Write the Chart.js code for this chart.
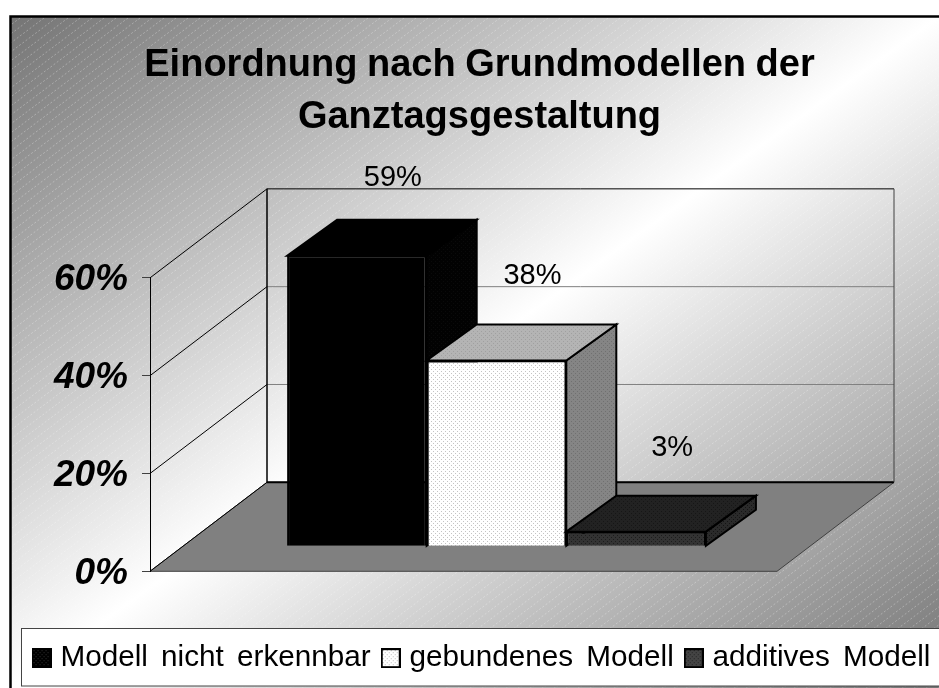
<!DOCTYPE html>
<html>
<head>
<meta charset="utf-8">
<style>html,body{margin:0;padding:0;background:#fff}canvas{display:block}</style>
<script src="https://cdn.jsdelivr.net/npm/chart.js@4"></script>
</head>
<body>
<canvas id="c" width="939" height="688"></canvas>
<script>
const titleLines = ["Einordnung nach Grundmodellen der", "Ganztagsgestaltung"];
const categories = [""];
const seriesNames = ["Modell nicht erkennbar", "gebundenes Modell", "additives Modell"];
const seriesValues = [59.4, 38, 3];
const yTickValues = [0, 20, 40, 60];

const SANS = '"Liberation Sans", Arial, sans-serif';
function tile(bg, dot) {
  const t = document.createElement('canvas'); t.width = 4; t.height = 4;
  const g = t.getContext('2d');
  g.fillStyle = bg; g.fillRect(0, 0, 4, 4);
  g.fillStyle = dot; g.fillRect(0, 0, 1, 1); g.fillRect(2, 2, 1, 1);
  return document.createElement('canvas').getContext('2d').createPattern(t, 'repeat');
}
const fronts = [tile('#000', '#000'), tile('#fff', '#c4c4c4'), tile('#333', '#1c1c1c')];
const tops = [tile('#000', '#000'), tile('#b4b4b4', '#a0a0a0'), tile('#222', '#161616')];
const sides = [tile('#020202', '#0a0a0a'), tile('#858585', '#707070'), tile('#2a2a2a', '#141414')];
const swatchFill = [tile('#000', '#333'), tile('#fff', '#bbb'), tile('#444', '#222')];
const swatches = swatchFill.map(p => {
  const s = document.createElement('canvas'); s.width = 20; s.height = 20;
  const g = s.getContext('2d');
  g.fillStyle = p; g.fillRect(0, 0, 20, 20);
  g.strokeStyle = '#000'; g.lineWidth = 2; g.strokeRect(1, 1, 18, 18);
  return s;
});

const WALL = {dx: 117, dy: -89};
const PLANE = {dx: 33, dy: -25};
const BAR = {dx: 50, dy: -36};

function drawBarFaces(ctx, el, i) {
  const l = el.x - el.width / 2, r = el.x + el.width / 2, t = el.y, b = el.base;
  ctx.strokeStyle = '#000'; ctx.lineWidth = 2; ctx.lineJoin = 'miter';
  ctx.beginPath();
  ctx.moveTo(r, t); ctx.lineTo(r + BAR.dx, t + BAR.dy); ctx.lineTo(r + BAR.dx, b + BAR.dy); ctx.lineTo(r, b); ctx.closePath();
  ctx.fillStyle = sides[i]; ctx.fill(); ctx.stroke();
  ctx.beginPath();
  ctx.moveTo(l, t); ctx.lineTo(l + BAR.dx, t + BAR.dy); ctx.lineTo(r + BAR.dx, t + BAR.dy); ctx.lineTo(r, t); ctx.closePath();
  ctx.fillStyle = tops[i]; ctx.fill(); ctx.stroke();
}

const decor = {
  id: 'decor',
  beforeLayout(chart) { chart.ctx.wordSpacing = '5px'; },
  beforeDraw(chart) {
    const ctx = chart.ctx;
    ctx.wordSpacing = '-1px';
    if (!chart.legend._spaced) {
      const legend = chart.legend, orig = legend.draw;
      legend._spaced = true;
      legend.draw = function () {
        ctx.save(); ctx.wordSpacing = '5px'; ctx.translate(4.5, 0);
        orig.apply(legend, arguments);
        ctx.restore();
      };
    }
    const L = 10.5, T = 16.5, W = 940, H = 680;
    ctx.save();
    const cx = L + 929 / 2, cy = T + 672 / 2;
    const len = 545, nx = 672 / 1146.6, ny = 929 / 1146.6;
    const g = ctx.createLinearGradient(cx - nx * len, cy - ny * len, cx + nx * len, cy + ny * len);
    g.addColorStop(0, '#747474');
    g.addColorStop(0.5, '#ffffff');
    g.addColorStop(1, '#747474');
    ctx.fillStyle = g;
    ctx.fillRect(L, T, W, H);
    ctx.beginPath(); ctx.rect(L, T, W, H); ctx.clip();
    ctx.strokeStyle = 'rgba(255,255,255,0.3)';
    ctx.lineWidth = 1;
    ctx.setLineDash([2, 2]);
    ctx.beginPath();
    for (let k = -1000; k < 1100; k += 12) {
      ctx.moveTo(k, 720); ctx.lineTo(k + 960, 0);
    }
    ctx.stroke();
    ctx.restore();

    ctx.save();
    ctx.strokeStyle = '#000'; ctx.lineWidth = 2.5;
    ctx.strokeRect(L, T, W, H);
    ctx.fillStyle = '#fff';
    ctx.fillRect(22, 629, 930, 57);
    ctx.strokeStyle = '#444'; ctx.lineWidth = 1;
    ctx.strokeRect(21.5, 628.5, 930, 57.5);
    ctx.restore();

    const a = chart.chartArea, y = chart.scales.y;
    const y0 = y.getPixelForValue(0);
    ctx.save();
    // floor
    ctx.beginPath();
    ctx.moveTo(a.left, y0);
    ctx.lineTo(a.right, y0);
    ctx.lineTo(a.right + WALL.dx, y0 + WALL.dy);
    ctx.lineTo(a.left + WALL.dx, y0 + WALL.dy);
    ctx.closePath();
    ctx.fillStyle = '#808080'; ctx.fill();
    ctx.strokeStyle = '#404040'; ctx.lineWidth = 1; ctx.stroke();
    // walls
    yTickValues.forEach(v => {
      const p = y.getPixelForValue(v);
      ctx.strokeStyle = '#000'; ctx.lineWidth = 1;
      ctx.beginPath(); ctx.moveTo(a.left, p); ctx.lineTo(a.left + WALL.dx, p + WALL.dy); ctx.stroke();
      const top = v === 60, bottom = v === 0;
      ctx.strokeStyle = top || bottom ? '#000' : '#808080';
      ctx.lineWidth = bottom ? 2 : 1;
      ctx.beginPath(); ctx.moveTo(a.left + WALL.dx, p + WALL.dy); ctx.lineTo(a.right + WALL.dx, p + WALL.dy); ctx.stroke();
    });
    ctx.strokeStyle = '#000'; ctx.lineWidth = 1.5;
    ctx.beginPath(); ctx.moveTo(a.left + WALL.dx, y.getPixelForValue(60) + WALL.dy); ctx.lineTo(a.left + WALL.dx, y0 + WALL.dy); ctx.stroke();
    ctx.strokeStyle = '#404040'; ctx.lineWidth = 1;
    ctx.beginPath(); ctx.moveTo(a.right + WALL.dx, y.getPixelForValue(60) + WALL.dy); ctx.lineTo(a.right + WALL.dx, y0 + WALL.dy); ctx.stroke();
    ctx.restore();
  },
  // Paint left-to-right so each bar overlaps the side face of its neighbour.
  beforeDatasetsDraw(chart) {
    const ctx = chart.ctx;
    ctx.save();
    ctx.translate(PLANE.dx, PLANE.dy);
    seriesValues.forEach((v, i) => {
      const meta = chart.getDatasetMeta(i);
      drawBarFaces(ctx, meta.data[0], i);
      meta.controller.draw();
    });
    ctx.restore();
  },
  beforeDatasetDraw() { return false; },
  afterDatasetsDraw(chart) {
    const ctx = chart.ctx;
    ctx.save();
    ctx.fillStyle = '#000';
    ctx.font = '29px ' + SANS;
    ctx.textAlign = 'center'; ctx.textBaseline = 'middle';
    const ceil = chart.scales.y.getPixelForValue(60) + WALL.dy - 11;
    seriesValues.forEach((v, i) => {
      const el = chart.getDatasetMeta(i).data[0];
      const ly = Math.max(el.y + PLANE.dy - 84, ceil);
      ctx.fillText(Math.round(v) + '%', el.x + PLANE.dx + 36, ly);
    });
    ctx.restore();
  }
};

new Chart(document.getElementById('c'), {
  type: 'bar',
  data: {
    labels: categories,
    datasets: seriesNames.map((n, i) => ({
      label: n,
      data: [seriesValues[i]],
      backgroundColor: fronts[i],
      borderColor: '#000',
      borderWidth: 2,
      yAxisID: 'y'
    }))
  },
  options: {
    responsive: false,
    animation: false,
    events: [],
    categoryPercentage: 0.668,
    barPercentage: 1,
    layout: {padding: {left: 10, top: 0, right: -10, bottom: 5}},
    scales: {
      x: {
        display: true,
        grid: {display: false},
        border: {display: false},
        ticks: {display: false},
        afterFit(s) { s.height = 56; }
      },
      y: {
        min: 0, max: 60,
        afterBuildTicks(s) { s.ticks = yTickValues.map(v => ({value: v})); },
        grid: {drawOnChartArea: false, color: '#404040', tickLength: 8, lineWidth: 1},
        border: {display: true, color: '#000', width: 1},
        ticks: {
          padding: 14,
          labelOffset: 2,
          color: '#000',
          font: {family: SANS, size: 37, style: 'italic', weight: 'bold'},
          callback: v => v + '%'
        },
        afterFit(s) { s.width = 140; }
      },
      y2: {
        position: 'right',
        display: true,
        min: 0, max: 60,
        grid: {display: false},
        border: {display: false},
        ticks: {display: false},
        afterFit(s) { s.width = 172; }
      }
    },
    plugins: {
      tooltip: {enabled: false},
      title: {
        display: true,
        text: titleLines,
        color: '#000',
        font: {family: SANS, size: 38, weight: 'bold', lineHeight: 1.36},
        padding: {top: 40, bottom: 134.5}
      },
      legend: {
        position: 'bottom',
        labels: {
          color: '#000',
          font: {family: SANS, size: 29.7},
          usePointStyle: true,
          pointStyleWidth: 8,
          padding: 16,
          generateLabels() {
            return seriesNames.map((n, i) => ({
              text: n, pointStyle: swatches[i], datasetIndex: i,
              hidden: false, lineWidth: 0, fontColor: '#000'
            }));
          }
        }
      }
    }
  },
  plugins: [decor]
});
</script>
</body>
</html>
